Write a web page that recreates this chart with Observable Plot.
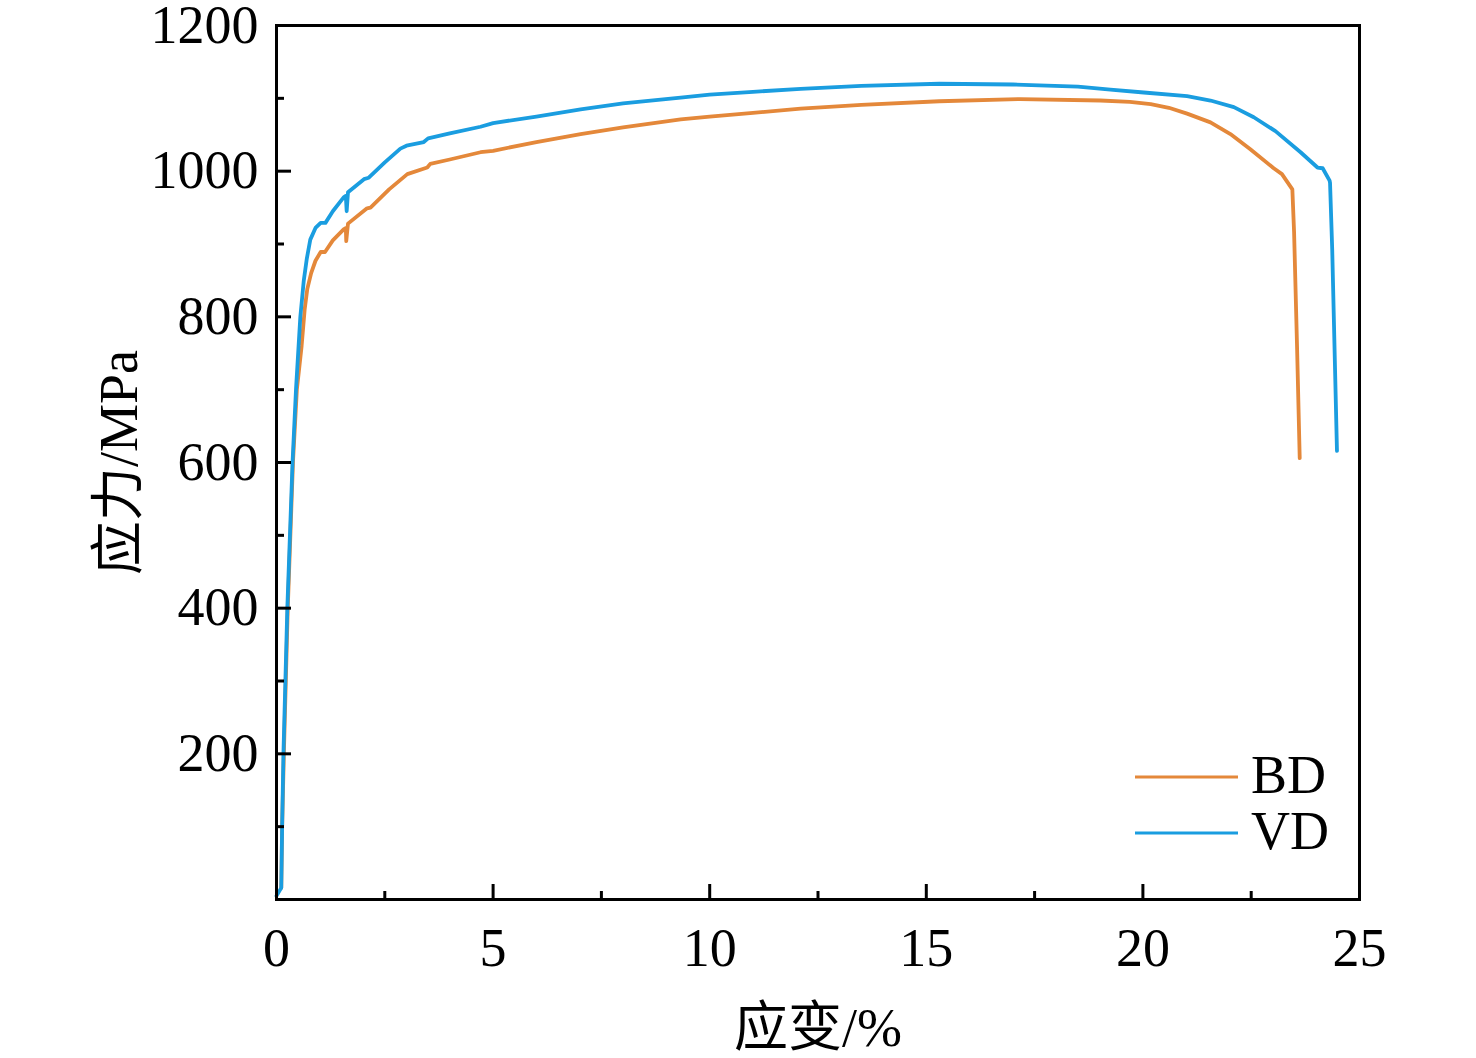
<!DOCTYPE html>
<html>
<head>
<meta charset="utf-8">
<script src="https://cdn.jsdelivr.net/npm/d3@7"></script>
<script src="https://cdn.jsdelivr.net/npm/@observablehq/plot@0.6"></script>
<style>
  html, body { margin: 0; padding: 0; background: #fff; }
  #chart { width: 1476px; height: 1058px; overflow: hidden; }
</style>
</head>
<body>
<div id="chart"></div>
<script>
const seriesNames = ["BD", "VD"];
const seriesColors = ["#E4883A", "#1A9DE0"];

const bdStrain = [0.11, 0.13, 0.17, 0.26, 0.38, 0.47, 0.58, 0.65, 0.71, 0.8, 0.9, 1.02, 1.12, 1.3, 1.55, 1.6, 1.61, 1.65, 2.09, 2.17, 2.6, 3.02, 3.48, 3.55, 4.0, 4.71, 5.0, 6.0, 7.02, 8.0, 9.33, 10.0, 11.0, 12.1, 13.5, 15.3, 17.17, 19.02, 19.7, 20.18, 20.6, 21.02, 21.56, 22.02, 22.48, 23.02, 23.21, 23.45, 23.49, 23.56, 23.62];
const bdStress = [16, 100, 200, 400, 600, 700, 760, 810, 838, 860, 877, 889, 889, 905, 920, 922, 904, 928, 949, 950, 975, 996, 1005, 1010, 1016, 1026, 1028, 1040, 1051, 1060, 1071, 1075, 1080, 1086, 1091, 1096, 1099, 1097, 1095, 1092, 1087, 1079, 1067, 1051, 1030, 1004, 996, 975, 916, 755, 606];

const vdStrain = [0, 0.11, 0.13, 0.16, 0.25, 0.37, 0.45, 0.55, 0.63, 0.7, 0.78, 0.9, 1.02, 1.13, 1.3, 1.55, 1.6, 1.62, 1.65, 2.02, 2.13, 2.5, 2.86, 3.0, 3.4, 3.5, 4.0, 4.71, 5.0, 6.0, 7.02, 8.0, 9.33, 10.0, 11.0, 12.1, 13.5, 15.3, 17.0, 18.5, 19.25, 20.02, 21.02, 21.56, 22.1, 22.56, 23.06, 23.64, 24.03, 24.15, 24.31, 24.32, 24.37, 24.48];
const vdStress = [5, 16, 100, 200, 400, 600, 700, 800, 850, 880, 906, 922, 929, 929, 945, 964, 966, 945, 971, 989, 991, 1012, 1031, 1035, 1040, 1045, 1052, 1061, 1066, 1075, 1085, 1093, 1101, 1105, 1109, 1113, 1117, 1120, 1119, 1116, 1112, 1108, 1103, 1097, 1088, 1074, 1055, 1026, 1005, 1004, 987, 984, 893, 616];

const xMajor = [0, 5, 10, 15, 20, 25];
const xMinor = [2.5, 7.5, 12.5, 17.5, 22.5];
const yMajor = [200, 400, 600, 800, 1000, 1200];
const yMinor = [100, 300, 500, 700, 900, 1100];
const xTitle = "应变/%";
const yTitle = "应力/MPa";

const rows = [
  ...bdStrain.map((s, i) => ({series: seriesNames[0], strain: s, stress: bdStress[i]})),
  ...vdStrain.map((s, i) => ({series: seriesNames[1], strain: s, stress: vdStress[i]}))
];

const W = 1476, H = 1058;
const mL = 276, mR = 117, mT = 25, mB = 159;
const pw = W - mL - mR, ph = H - mT - mB;
const font = "'Liberation Serif', 'Times New Roman', 'Noto Sans CJK SC', serif";

const svg = Plot.plot({
  width: W, height: H,
  marginLeft: mL, marginRight: mR, marginTop: mT, marginBottom: mB,
  style: {fontFamily: font, fontSize: "54px", color: "#000", background: "#fff", overflow: "visible"},
  x: {domain: [0, 25]},
  y: {domain: [0, 1200]},
  color: {domain: seriesNames, range: seriesColors},
  marks: [
    Plot.line(rows, {x: "strain", y: "stress", z: "series", stroke: "series", strokeWidth: 3.8, strokeLinejoin: "round"}),
    Plot.tickY(yMajor, {y: d => d, insetRight: pw - 15, stroke: "#000", strokeWidth: 3}),
    Plot.tickY(yMinor, {y: d => d, insetRight: pw - 8, stroke: "#000", strokeWidth: 3}),
    Plot.tickX(xMajor, {x: d => d, insetTop: ph - 15, stroke: "#000", strokeWidth: 3}),
    Plot.tickX(xMinor, {x: d => d, insetTop: ph - 8, stroke: "#000", strokeWidth: 3}),
    Plot.frame({stroke: "#000", strokeWidth: 3}),
    Plot.axisY({ticks: yMajor, tickFormat: d => String(d), tickSize: 0, tickPadding: 18, fontSize: 54, label: null, fill: "#000"}),
    Plot.axisX({ticks: xMajor, tickFormat: d => String(d), tickSize: 0, tickPadding: 28, fontSize: 54, label: null, fill: "#000"}),
    Plot.text([xTitle], {text: d => d, frameAnchor: "bottom", textAnchor: "middle", lineAnchor: "middle", dy: 129, fontSize: 54, fill: "#000"}),
    Plot.text([yTitle], {text: d => d, frameAnchor: "left", textAnchor: "middle", lineAnchor: "middle", dx: -157, rotate: -90, fontSize: 54, fill: "#000"})
  ]
});

// legend (decoration)
const g = d3.select(svg).append("g").attr("class", "legend").attr("text-anchor", "start");
const legendY = [777, 833];
seriesNames.forEach((name, i) => {
  g.append("line")
    .attr("x1", 1135).attr("x2", 1238)
    .attr("y1", legendY[i]).attr("y2", legendY[i])
    .attr("stroke", seriesColors[i]).attr("stroke-width", 3);
  g.append("text")
    .attr("x", 1251).attr("y", legendY[i] + 16)
    .attr("text-anchor", "start")
    .attr("font-family", font).attr("font-size", 54)
    .attr("fill", "#000")
    .text(name);
});

document.getElementById("chart").appendChild(svg);
</script>
</body>
</html>
